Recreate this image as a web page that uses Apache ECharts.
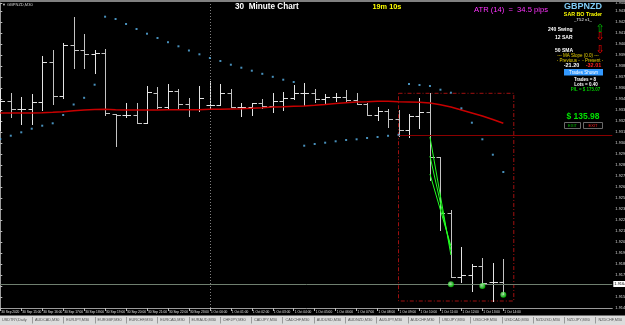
<!DOCTYPE html>
<html><head><meta charset="utf-8">
<script src="https://cdn.jsdelivr.net/npm/echarts@6/dist/echarts.min.js"></script>
<style>html,body{margin:0;padding:0;background:#000;}#c{width:625px;height:325px;}</style>
</head><body><div id="c"></div><script>
// ---- data (GBPNZD, M30) ----
const tickLabels = ["30 Sep 2020","30 Sep 15:00","30 Sep 16:00","30 Sep 17:00","30 Sep 18:00","30 Sep 19:00","30 Sep 20:00","30 Sep 21:00","30 Sep 22:00","30 Sep 23:00","1 Oct 00:00","1 Oct 01:00","1 Oct 02:00","1 Oct 03:00","1 Oct 04:00","1 Oct 05:00","1 Oct 06:00","1 Oct 07:00","1 Oct 08:00","1 Oct 09:00","1 Oct 10:00","1 Oct 11:00","1 Oct 12:00","1 Oct 13:00","1 Oct 14:00"];
const opens = [1.93430,1.93470,1.93395,1.93390,1.93460,1.93863,1.93525,1.94030,1.93980,1.93937,
1.93947,1.93340,1.93327,1.93327,1.93253,1.93555,1.93407,1.93567,1.93440,1.93387,
1.93430,1.93430,1.93547,1.93407,1.93407,1.93447,1.93420,1.93473,1.93503,1.93553,
1.93555,1.93487,1.93510,1.93510,1.93477,1.93440,1.93330,1.93373,1.93295,1.93180,
1.93320,1.93357,1.92907,1.92353,1.91713,1.91730,1.91820,1.91657,1.91657];
const highs = [1.93590,1.93553,1.93510,1.93537,1.93920,1.93980,1.94055,1.94313,1.94140,1.93980,
1.93987,1.93345,1.93447,1.93447,1.93620,1.93607,1.93640,1.93588,1.93500,1.93620,
1.93670,1.93640,1.93587,1.93453,1.93453,1.93487,1.93547,1.93563,1.93633,1.93647,
1.93587,1.93537,1.93553,1.93580,1.93547,1.93447,1.93413,1.93387,1.93380,1.93340,
1.93497,1.93547,1.92907,1.92380,1.92007,1.91840,1.91897,1.91853,1.91887];
const lows = [1.93180,1.93307,1.93245,1.93245,1.93380,1.93440,1.93500,1.93805,1.93805,1.93753,
1.93335,1.93025,1.93307,1.93250,1.93250,1.93400,1.93397,1.93388,1.93320,1.93373,
1.93387,1.93430,1.93407,1.93320,1.93327,1.93397,1.93363,1.93380,1.93487,1.93427,
1.93463,1.93437,1.93473,1.93463,1.93440,1.93330,1.93280,1.93213,1.93120,1.93107,
1.93197,1.92680,1.92180,1.91713,1.91663,1.91573,1.91647,1.91473,1.91540];
const closes = [1.93470,1.93395,1.93395,1.93460,1.93863,1.93525,1.94030,1.93980,1.93937,1.93953,
1.93347,1.93327,1.93327,1.93253,1.93560,1.93413,1.93567,1.93440,1.93387,1.93500,
1.93430,1.93547,1.93407,1.93407,1.93447,1.93423,1.93473,1.93497,1.93553,1.93553,
1.93487,1.93510,1.93510,1.93477,1.93440,1.93330,1.93373,1.93295,1.93180,1.93320,
1.93357,1.92907,1.92353,1.91713,1.91730,1.91820,1.91647,1.91657,1.91640];
const sar = [1.93090,1.93123,1.93157,1.93193,1.93223,1.93247,1.93330,1.93435,1.93502,1.93633,
1.94313,1.94290,1.94240,1.94190,1.94143,1.94100,1.94058,1.94017,1.93975,1.93937,
1.93900,1.93870,1.93833,1.93803,1.93773,1.93742,1.93712,1.93683,1.93660,1.93023,
1.93040,1.93053,1.93067,1.93080,1.93087,1.93100,1.93110,1.93122,1.93132,1.93640,
1.93630,1.93620,1.93583,1.93553,1.93397,1.93253,1.93087,1.92933,1.92760];
const sma50 = [1.93350,1.93350,1.93350,1.93350,1.93352,1.93357,1.93363,1.93372,1.93380,1.93385,
1.93387,1.93382,1.93380,1.93380,1.93380,1.93380,1.93383,1.93383,1.93383,1.93383,
1.93387,1.93387,1.93390,1.93393,1.93397,1.93403,1.93410,1.93413,1.93417,1.93420,
1.93427,1.93435,1.93445,1.93453,1.93460,1.93463,1.93467,1.93467,1.93463,1.93460,
1.93457,1.93450,1.93433,1.93410,1.93380,1.93350,1.93320,1.93285,1.93247];
const tradeEntryBar = [41, 41, 41];
const tradeEntryPrice = [1.93110, 1.92920, 1.92740];
const tradeExitBar = [43, 43, 43];
const tradeExitPrice = [1.91930, 1.91980, 1.92020];
const exitDotBar = [43, 46, 48];
const exitDotPrice = [1.91637, 1.91620, 1.91533];
const boxBars = [38, 49];
const boxPrices = [1.93547, 1.91470];
const levelPrice = 1.93130;
const bidPrice = 1.91640;
const daySeparatorBar = 20;
const tabs = ["USDTRY,Daily","AUDCAD,M30","EURJPY,M30","EURGBP,M30","EURCHF,M30","EURCAD,M30","EURAUD,M30","CHFJPY,M30","CADJPY,M30","CADCHF,M30","AUDUSD,M30","AUDNZD,M30","AUDJPY,M30","AUDCHF,M30","USDJPY,M30","USDCHF,M30","USDCAD,M30","NZDUSD,M30","NZDJPY,M30","NZDCHF,M30"];

// ---- chart ----
const FF = '"Liberation Sans", Arial, sans-serif';
const ohlc = opens.map((o, i) => [i, o, highs[i], lows[i], closes[i]]);
const tickVals = tickLabels.map((_, k) => 2 * k);

function renderBar(params, api) {
  const i = api.value(0);
  const o = api.coord([i, api.value(1)]);
  const h = api.coord([i, api.value(2)]);
  const l = api.coord([i, api.value(3)]);
  const c = api.coord([i, api.value(4)]);
  const x = Math.round(o[0]) + 0.5;
  const ry = v => Math.round(v) + 0.5;
  const col = api.value(4) >= api.value(1) ? '#e4e4e4' : '#c4c4c4';
  const st = { stroke: col, lineWidth: 1 };
  return { type: 'group', children: [
    { type: 'line', shape: { x1: x, y1: Math.round(h[1]), x2: x, y2: Math.round(l[1]) + 1 }, style: st },
    { type: 'line', shape: { x1: x - 4, y1: ry(o[1]), x2: x, y2: ry(o[1]) }, style: st },
    { type: 'line', shape: { x1: x, y1: ry(c[1]), x2: x + 4.5, y2: ry(c[1]) }, style: st }
  ]};
}

const g = [];
function txt(x, y, text, fill, font, align) {
  g.push({ type: 'text', x: x, y: y, silent: true, z: 100,
    style: { text: text, fill: fill, font: font, align: align || 'center', verticalAlign: 'middle' } });
}
g.push({ type: 'rect', shape: { x: 0, y: 0, width: 625, height: 2 }, style: { fill: '#808080' }, silent: true, z: 100 });
txt(2, 4.8, '▼ GBPNZD,M30', '#cfcfcf', '4px ' + FF, 'left');
txt(235, 7, '30  Minute Chart', '#ffffff', 'bold 8.2px ' + FF, 'left');
txt(372.5, 7, '19m 10s', '#ffff00', 'bold 7.3px ' + FF, 'left');
txt(474, 9.5, 'ATR (14)  =  34.5 pips', '#ff33ff', '7.6px ' + FF, 'left');
// right panel
txt(583, 7, 'GBPNZD', '#7ecbf5', 'bold 9px ' + FF);
txt(583, 14.5, 'SAR BO Trader', '#ffff00', 'bold 5.3px ' + FF);
txt(583, 20, '_T52 v1_', '#ffffff', '4.3px ' + FF);
txt(572.5, 29.5, '240 Swing', '#ffffff', 'bold 5px ' + FF, 'right');
txt(600, 29.5, '⇧', '#00c000', '11px "DejaVu Sans"');
txt(572.5, 37.5, '12 SAR', '#ffffff', 'bold 5px ' + FF, 'right');
txt(600, 37.5, '⇩', '#ff0000', '11px "DejaVu Sans"');
txt(573, 50.5, '50 SMA', '#ffffff', 'bold 5px ' + FF, 'right');
txt(600, 50.5, '⇩', '#ff0000', '11px "DejaVu Sans"');
txt(578, 56, '--- MA Slope (0.0) ---', '#e8d000', '4.5px ' + FF);
txt(580, 60.5, '- Previous -  - Present -', '#e8d000', '4.5px ' + FF);
txt(571.5, 65, '-21.20', '#ffffff', 'bold 5.5px ' + FF);
txt(593.5, 65, '-32.01', '#ff2020', 'bold 5.5px ' + FF);
g.push({ type: 'rect', shape: { x: 564, y: 69, width: 39, height: 6.5 }, style: { fill: '#3399ff' }, silent: true, z: 99 });
txt(583.5, 72.3, 'Trades Shown', '#ffffff', '4.5px ' + FF);
txt(585, 80, 'Trades = 8', '#ffffff', 'bold 4.5px ' + FF);
txt(586, 84.5, 'Lots = 0.40', '#ffffff', 'bold 4.5px ' + FF);
txt(585.5, 89.5, 'P/L = $ 175.07', '#00d000', 'bold 4.5px ' + FF);
txt(583, 117, '$ 135.98', '#00e000', 'bold 8.5px ' + FF);
g.push({ type: 'rect', shape: { x: 564.5, y: 122.5, width: 16, height: 6 }, style: { fill: 'none', stroke: '#6a6a6a', lineWidth: 1 }, silent: true, z: 99 });
g.push({ type: 'rect', shape: { x: 583.5, y: 122.5, width: 19, height: 6 }, style: { fill: 'none', stroke: '#6a6a6a', lineWidth: 1 }, silent: true, z: 99 });
txt(572.5, 125.6, 'EXIT', '#00c000', '4px ' + FF);
txt(593, 125.6, 'EXIT', '#ff2020', '4px ' + FF);
// tabs
g.push({ type: 'rect', shape: { x: 0, y: 315.5, width: 625, height: 9.5 }, style: { fill: '#dcdcdc' }, silent: true, z: 100 });
tabs.forEach((t, i) => {
  const x0 = i === 0 ? 2 : 35 + (i - 1) * 31.3;
  txt(x0, 320.3, t, '#505050', '3.8px ' + FF, 'left');
  if (i > 0) g.push({ type: 'line', shape: { x1: Math.round(x0 - 3) + 0.5, y1: 317, x2: Math.round(x0 - 3) + 0.5, y2: 323.5 }, style: { stroke: '#9a9a9a', lineWidth: 1 }, silent: true, z: 101 });
});

const option = {
  backgroundColor: '#000000',
  animation: false,
  grid: { left: 0.3, right: 12.7, top: 3, bottom: 17, containLabel: false, outerBoundsMode: 'none' },
  xAxis: {
    type: 'value', min: 0, max: 58.4,
    axisLine: { show: true, lineStyle: { color: '#9a9a9a', width: 1 } },
    axisTick: { show: true, customValues: tickVals, length: 3, lineStyle: { color: '#bdbdbd' } },
    axisLabel: { customValues: tickVals, color: '#e0e0e0', fontSize: 3.2, fontFamily: FF, align: 'left', margin: 2.5, padding: [0, 0, 0, 1],
      formatter: v => tickLabels[Math.round(v / 2)] || '' },
    splitLine: { show: false }
  },
  yAxis: {
    type: 'value', position: 'right', min: 1.914, max: 1.9445, interval: 0.0011, scale: true,
    axisLine: { show: true, lineStyle: { color: '#9a9a9a', width: 1 } },
    axisTick: { show: true, length: 2, lineStyle: { color: '#bdbdbd' } },
    axisLabel: { color: '#d8d8d8', fontSize: 4, fontFamily: FF, margin: 3, formatter: v => v.toFixed(5) },
    splitLine: { show: false }
  },
  graphic: g,
  series: [
    { type: 'custom', name: 'GBPNZD', renderItem: renderBar, data: ohlc, encode: { x: 0, y: [1, 2, 3, 4] }, clip: true, z: 3, silent: true },
    { type: 'line', name: 'SMA 50', data: sma50.map((v, i) => [i, v]), showSymbol: false, symbol: 'none', clip: true,
      lineStyle: { color: '#c80000', width: 1.6 }, z: 5, silent: true,
      markLine: { silent: true, symbol: 'none', animation: false, precision: 5,
        data: [
          [{ coord: [boxBars[0], levelPrice], lineStyle: { color: '#8b0000', width: 1, type: 'solid' }, label: { show: false } }, { coord: [58.4, levelPrice] }],
          [{ coord: [0, bidPrice], lineStyle: { color: '#6f7f6f', width: 1, type: 'solid' },
             label: { show: true, position: 'end', distance: 1, formatter: bidPrice.toFixed(5), color: '#000', backgroundColor: '#ffffff', fontSize: 4, fontFamily: FF, padding: [1, 1] } },
           { coord: [58.4, bidPrice] }],
          { xAxis: daySeparatorBar, lineStyle: { color: '#808080', width: 1, type: [1, 2] }, label: { show: false } }
        ] },
      markArea: { silent: true,
        itemStyle: { color: 'rgba(0,0,0,0)', borderColor: '#a01010', borderWidth: 1, borderType: [4, 2, 1, 2] },
        data: [[{ coord: [boxBars[0], boxPrices[0]] }, { coord: [boxBars[1], boxPrices[1]] }]] }
    },
    { type: 'scatter', name: 'SAR', data: sar.map((v, i) => [i, v]), symbol: 'rect', symbolSize: 2, clip: true,
      itemStyle: { color: '#5ab4ea' }, z: 6, silent: true },
    { type: 'lines', coordinateSystem: 'cartesian2d', silent: true, z: 7,
      data: tradeEntryBar.map((b, k) => ({ coords: [[b, tradeEntryPrice[k]], [tradeExitBar[k], tradeExitPrice[k]]] })),
      lineStyle: { color: '#22ff22', width: 1, opacity: 1 } },
    { type: 'scatter', name: 'Exits', data: exitDotBar.map((b, k) => [b, exitDotPrice[k]]), symbolSize: 6, z: 8, silent: true,
      itemStyle: { color: { type: 'radial', x: 0.4, y: 0.4, r: 0.6, colorStops: [{ offset: 0, color: '#c8ffc8' }, { offset: 1, color: '#00d800' }] } } }
  ]
};
const chart = echarts.init(document.getElementById('c'), null, { renderer: 'canvas' });
chart.setOption(option);
</script></body></html>
